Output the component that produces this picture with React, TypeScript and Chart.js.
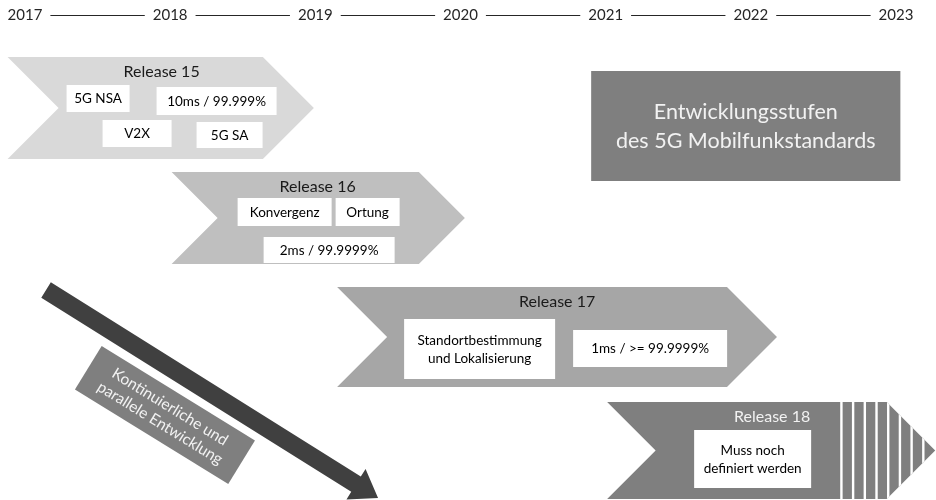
import React, { useEffect, useRef } from "react";
import { Chart, registerables } from "chart.js";

Chart.register(...registerables);

// ---- data ----
const YEARS = [2017, 2018, 2019, 2020, 2021, 2022, 2023];
const RELEASES = ["Release 15", "Release 16", "Release 17", "Release 18"];
const REL_START = [2016.88, 2018.01, 2019.15, 2021.01];
const REL_END = [2018.99, 2020.03, 2022.18, 2023.27];
const REL_TOP = [0.57, 1.72, 2.87, 4.02];
const REL_BOTTOM = [1.59, 2.64, 3.87, 4.99];
const REL_FEATURES = [
  ["5G NSA", "10ms / 99.999%", "V2X", "5G SA"],
  ["Konvergenz", "Ortung", "2ms / 99.9999%"],
  ["Standortbestimmung\nund Lokalisierung", "1ms / >= 99.9999%"],
  ["Muss noch\ndefiniert werden"],
];
const REL_OPEN_END = [false, false, false, true];
const TITLE_LINES = ["Entwicklungsstufen", "des 5G Mobilfunkstandards"];
const TITLE_X = [2020.9, 2023.03];
const TITLE_Y = [0.71, 1.81];
const ARROW_FROM = [2017.145, 2.9];
const ARROW_TO = [2019.432, 4.98];
const ARROW_LABEL = ["Kontinuierliche und", "parallele Entwicklung"];
const ARROW_LABEL_AT = [2017.964, 4.15];

// ---- style / layout ----
const FONT = "Lato, 'Noto Sans', sans-serif";
const REL_COLORS = ["#d9d9d9", "#bfbfbf", "#a6a6a6", "#7f7f7f"];
const REL_TITLE_COLORS = ["#1a1a1a", "#1a1a1a", "#1a1a1a", "#f2f2f2"];
// offsets (px) relative to chevron's left/top: title center, then feature boxes [x,y,w,h]
const REL_TITLE_OFF = [
  [154, 15],
  [146, 15],
  [220, 15],
  [165, 15],
];
const REL_BOX_OFF = [
  [
    [59, 28, 63, 27],
    [149, 30, 120, 28],
    [95, 63, 69, 27],
    [189, 65, 66, 26],
  ],
  [
    [66, 26, 94, 28],
    [164, 26, 64, 28],
    [92, 65, 131, 26],
  ],
  [
    [67, 32, 151, 60],
    [236, 43, 154, 37],
  ],
  [[87, 28, 117, 58]],
];

const X_MIN = 2017 - 25 / 145.17;
const X_MAX = X_MIN + 936 / 145.17;

function drawText(ctx: CanvasRenderingContext2D, text: string, cx: number, cy: number, lh: number) {
  const lines = text.split("\n");
  const start = cy - ((lines.length - 1) * lh) / 2;
  lines.forEach((l, i) => ctx.fillText(l, cx, start + i * lh));
}

const diagramPlugin = {
  id: "diagram",
  afterDraw(chart: any) {
    const ctx: CanvasRenderingContext2D = chart.ctx;
    const xs = chart.scales.x;
    const ys = chart.scales.y;
    const px = (v: number) => xs.getPixelForValue(v);
    const py = (v: number) => ys.getPixelForValue(v);
    ctx.save();

    // timeline
    ctx.font = `15px ${FONT}`;
    ctx.fillStyle = "#262626";
    ctx.textAlign = "center";
    ctx.textBaseline = "middle";
    const yLine = 15;
    const widths = YEARS.map((y) => ctx.measureText(String(y)).width);
    YEARS.forEach((y) => ctx.fillText(String(y), px(y), yLine));
    ctx.strokeStyle = "#262626";
    ctx.lineWidth = 1;
    for (let i = 0; i < YEARS.length - 1; i++) {
      const a = px(YEARS[i]) + widths[i] / 2 + 8;
      const b = px(YEARS[i + 1]) - widths[i + 1] / 2 - 8;
      ctx.beginPath();
      ctx.moveTo(a, yLine + 0.5);
      ctx.lineTo(b, yLine + 0.5);
      ctx.stroke();
    }

    // chevrons
    RELEASES.forEach((name, i) => {
      const l = px(REL_START[i]);
      const r = px(REL_END[i]);
      const t = py(REL_TOP[i]);
      const b = py(REL_BOTTOM[i]);
      const d = (b - t) / 2;
      const m = (t + b) / 2;
      const path = new Path2D();
      path.moveTo(l, t);
      path.lineTo(r - d, t);
      path.lineTo(r, m);
      path.lineTo(r - d, b);
      path.lineTo(l, b);
      path.lineTo(l + d, m);
      path.closePath();
      ctx.fillStyle = REL_COLORS[i];
      ctx.fill(path);
      if (REL_OPEN_END[i]) {
        ctx.save();
        ctx.clip(path);
        ctx.fillStyle = "#ffffff";
        const x0 = r - d - 46.5;
        for (let k = 0; k < 8; k++) {
          ctx.fillRect(x0 + k * 11.7, t - 2, 2.4, b - t + 4);
        }
        ctx.restore();
      }
      // title
      ctx.font = `16px ${FONT}`;
      ctx.fillStyle = REL_TITLE_COLORS[i];
      ctx.textAlign = "center";
      ctx.textBaseline = "middle";
      ctx.fillText(name, l + REL_TITLE_OFF[i][0], t + REL_TITLE_OFF[i][1]);
      // feature boxes
      ctx.font = `13.5px ${FONT}`;
      REL_FEATURES[i].forEach((f, j) => {
        const [ox, oy, w, h] = REL_BOX_OFF[i][j];
        ctx.fillStyle = "#ffffff";
        ctx.fillRect(l + ox, t + oy, w, h);
        ctx.fillStyle = "#000000";
        drawText(ctx, f, l + ox + w / 2, t + oy + h / 2 + 0.5, 18);
      });
    });

    // title box
    {
      const l = px(TITLE_X[0]);
      const r = px(TITLE_X[1]);
      const t = py(TITLE_Y[0]);
      const b = py(TITLE_Y[1]);
      ctx.fillStyle = "#7f7f7f";
      ctx.fillRect(l, t, r - l, b - t);
      ctx.fillStyle = "#f2f2f2";
      ctx.font = `21.5px ${FONT}`;
      ctx.textAlign = "center";
      ctx.textBaseline = "middle";
      drawText(ctx, TITLE_LINES.join("\n"), (l + r) / 2, (t + b) / 2 + 1, 29);
    }

    // diagonal arrow
    const ax = px(ARROW_FROM[0]);
    const ay = py(ARROW_FROM[1]);
    const bx = px(ARROW_TO[0]);
    const by = py(ARROW_TO[1]);
    const ang = Math.atan2(by - ay, bx - ax);
    const len = Math.hypot(bx - ax, by - ay);
    ctx.save();
    ctx.translate(ax, ay);
    ctx.rotate(ang);
    ctx.fillStyle = "#404040";
    const sw = 9;
    const hl = 26;
    const hw = 18;
    ctx.beginPath();
    ctx.moveTo(0, -sw);
    ctx.lineTo(len - hl, -sw);
    ctx.lineTo(len - hl, -hw);
    ctx.lineTo(len, 0);
    ctx.lineTo(len - hl, hw);
    ctx.lineTo(len - hl, sw);
    ctx.lineTo(0, sw);
    ctx.closePath();
    ctx.fill();
    ctx.restore();

    // rotated label
    ctx.save();
    ctx.translate(px(ARROW_LABEL_AT[0]), py(ARROW_LABEL_AT[1]));
    ctx.rotate(ang - 0.008);
    ctx.fillStyle = "#7f7f7f";
    ctx.fillRect(-90, -25.5, 180, 51);
    ctx.fillStyle = "#f2f2f2";
    ctx.font = `15.5px ${FONT}`;
    ctx.textAlign = "center";
    ctx.textBaseline = "middle";
    drawText(ctx, ARROW_LABEL.join("\n"), 0, 0, 19);
    ctx.restore();

    ctx.restore();
  },
};

export default function App() {
  const ref = useRef<HTMLCanvasElement | null>(null);
  useEffect(() => {
    document.body.style.margin = "0";
    const canvas = ref.current;
    if (!canvas) return;
    const chart = new Chart(canvas, {
      type: "scatter",
      data: { datasets: [{ data: [], pointRadius: 0 }] },
      options: {
        responsive: false,
        maintainAspectRatio: false,
        animation: false,
        layout: { padding: 0 },
        plugins: { legend: { display: false }, tooltip: { enabled: false } },
        scales: {
          x: { type: "linear", min: X_MIN, max: X_MAX, display: false },
          y: { type: "linear", min: 0, max: 5, reverse: true, display: false },
        },
      },
      plugins: [diagramPlugin],
    });
    return () => chart.destroy();
  }, []);
  return (
    <div style={{ width: 936, height: 500, background: "#ffffff" }}>
      <canvas ref={ref} width={936} height={500} style={{ display: "block" }} />
    </div>
  );
}
